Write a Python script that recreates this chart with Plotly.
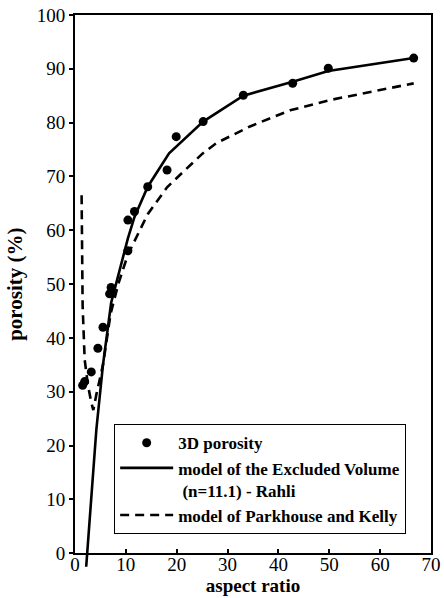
import plotly.graph_objects as go

# ---- data ----
# 3D porosity (measured points)
ar_pts = [1.5, 1.9, 3.2, 4.5, 5.5, 6.8, 7.1, 10.4, 10.4, 11.7, 14.3, 18.1, 19.9, 25.2, 33.1, 42.8, 49.8, 66.6]
por_pts = [31.2, 31.9, 33.7, 38.1, 42.0, 48.2, 49.4, 56.2, 61.9, 63.5, 68.1, 71.2, 77.4, 80.2, 85.1, 87.3, 90.1, 92.0]

# model of the Excluded Volume (n=11.1) - Rahli
ar_ev = [2.2, 3.2, 4.2, 5.5, 7.1, 10.4, 11.7, 14.3, 18.5, 25.2, 33.1, 42.8, 49.8, 66.6]
por_ev = [-2.5, 9.5, 23.0, 35.0, 46.5, 58.5, 62.5, 68.1, 74.3, 80.2, 85.0, 87.6, 89.6, 92.0]

# model of Parkhouse and Kelly
ar_pk = [1.3, 1.5, 1.9, 2.5, 3.2, 3.6, 4.2, 5.5, 7.0, 8.5, 10.4, 12.0, 14.3, 18.1, 20.6, 25.0, 27.8, 34.4, 42.3, 50.1, 66.6]
por_pk = [66.5, 46.0, 36.0, 31.5, 28.0, 26.6, 29.5, 35.0, 44.5, 50.0, 55.5, 58.5, 63.0, 68.0, 70.3, 74.2, 76.2, 79.3, 82.3, 84.2, 87.3]

x_ticks = [0, 10, 20, 30, 40, 50, 60, 70]
y_ticks = [0, 10, 20, 30, 40, 50, 60, 70, 80, 90, 100]

names = ["3D porosity", "model of the Excluded Volume<br> (n=11.1) - Rahli", "model of Parkhouse and Kelly"]

# ---- layout geometry ----
W, H = 444, 598
ML, MR, MT, MB = 75, 13, 15, 30
axis_bottom_px = 553.3
paper_h = H - MT - MB
y_dom0 = (H - MB - axis_bottom_px) / paper_h
units_per_px = 100 / (axis_bottom_px - MT)
y2_min = 100 - paper_h * units_per_px

FONT = "Liberation Serif"

fig = go.Figure()
fig.add_trace(go.Scatter(
    x=ar_pts, y=por_pts, mode="markers", name=names[0],
    marker=dict(color="black", size=9), xaxis="x", yaxis="y", cliponaxis=False))
fig.add_trace(go.Scatter(
    x=ar_ev, y=por_ev, mode="lines", name=names[1],
    line=dict(color="black", width=2.6), xaxis="x2", yaxis="y2"))
fig.add_trace(go.Scatter(
    x=ar_pk, y=por_pk, mode="lines", name=names[2],
    line=dict(color="black", width=2.6, dash="9px,6px"), xaxis="x", yaxis="y"))

tickfont = dict(family=FONT, size=19, color="black")
fig.update_layout(
    template="none",
    width=W, height=H,
    margin=dict(l=ML, r=MR, t=MT, b=MB, autoexpand=False),
    paper_bgcolor="white", plot_bgcolor="rgba(0,0,0,0)",
    showlegend=True,
    xaxis=dict(range=[0, 70], domain=[0, 1], tickvals=x_ticks, ticks="inside", ticklen=4, tickwidth=2,
               tickcolor="black", showline=True, linewidth=2, linecolor="black", mirror=True,
               showgrid=False, zeroline=False, tickfont=tickfont, anchor="y", ticklabelstandoff=-7,
               automargin=False,
               title=dict(text="aspect ratio", font=dict(family=FONT, size=19, color="black", weight="bold"),
                          standoff=2)),
    yaxis=dict(range=[0, 100], domain=[y_dom0, 1], tickvals=y_ticks, ticks="outside", ticklen=4,
               tickwidth=2, tickcolor="black", showline=True, linewidth=2, linecolor="black",
               mirror=True, showgrid=False, zeroline=False, tickfont=tickfont, anchor="x",
               automargin=False,
               title=dict(text="porosity (%)", font=dict(family=FONT, size=21, color="black", weight="bold"),
                          standoff=8)),
    xaxis2=dict(range=[0, 70], domain=[0, 1], visible=False, anchor="y2", automargin=False),
    yaxis2=dict(range=[y2_min, 100], domain=[0, 1], visible=False, anchor="x2", automargin=False),
    legend=dict(x=0.11, y=0.26, xanchor="left", yanchor="top",
                bgcolor="white", bordercolor="black", borderwidth=1,
                font=dict(family=FONT, size=17, color="black", weight="bold"),
                itemwidth=53, valign="top", tracegroupgap=0),
)
fig.write_html("out.html")
